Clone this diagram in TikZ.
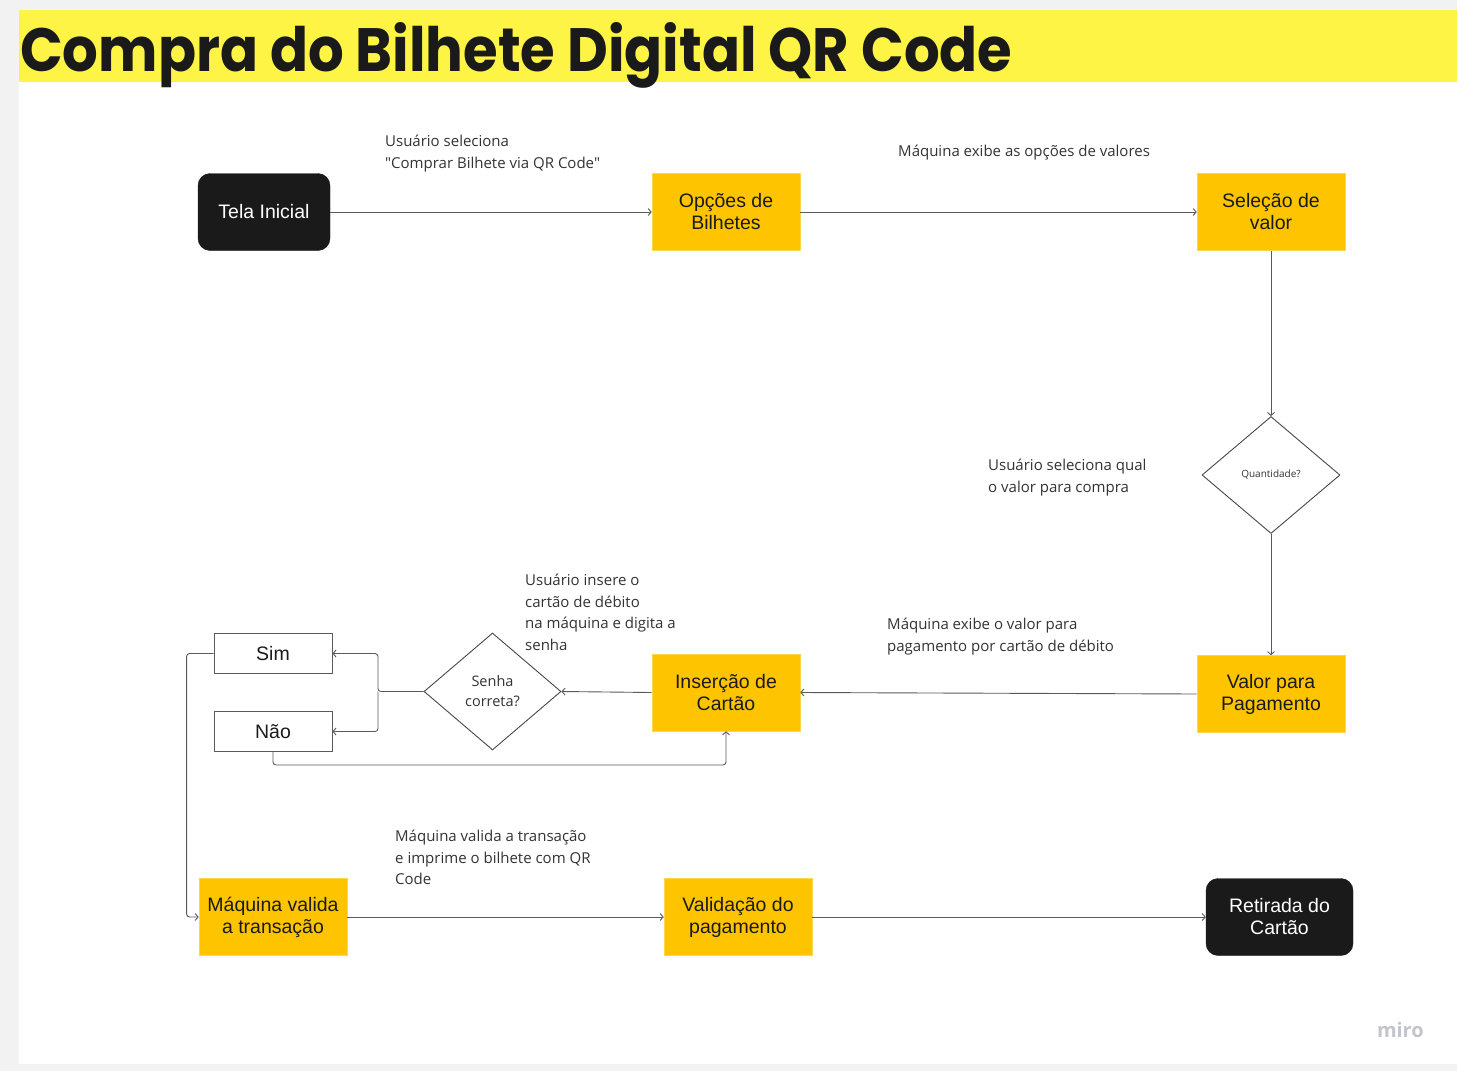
\documentclass[tikz,border=0pt]{standalone}
\usepackage{fontspec}
\usepackage{graphicx}
\setmainfont{Liberation Sans}
\newfontfamily\opensans{Open Sans}
\newfontfamily\titlefont{Poppins}
\usetikzlibrary{arrows.meta,shapes.geometric,calc}
\definecolor{bgray}{HTML}{F2F2F2}
\definecolor{titley}{HTML}{FEF445}
\definecolor{boxy}{HTML}{FFC400}
\definecolor{boxk}{HTML}{1A1A1A}
\definecolor{linec}{HTML}{5A5A5A}
\definecolor{txtc}{HTML}{333333}
\definecolor{miroc}{HTML}{C4C4CC}
\tikzset{
  ybox/.style={fill=boxy, draw=boxy!70!white, line width=0.6pt, minimum width=148pt, minimum height=77pt, inner sep=0pt, align=center, text=boxk, font=\fontsize{19.5}{22}\selectfont},
  kbox/.style={fill=boxk, draw=boxk, rounded corners=12pt, minimum height=77pt, inner sep=0pt, align=center, text=white, font=\fontsize{19.5}{22}\selectfont},
  wbox/.style={fill=white, draw=linec, line width=0.9pt, minimum width=118pt, minimum height=40pt, inner sep=0pt, align=center, text=boxk, font=\fontsize{19.5}{22}\selectfont},
  dia/.style={diamond, draw=boxk!80, line width=0.9pt, fill=white, inner sep=0pt, align=center, text=txtc},
  arr/.style={draw=linec, line width=0.9pt, -{Straight Barb[length=3pt,width=7pt]}},
  lbl/.style={anchor=north west, inner sep=0pt, align=left, text=txtc, font=\opensans\fontsize{15}{21.5}\selectfont}
}
\begin{document}
\begin{tikzpicture}[x=1pt,y=-1pt]
\useasboundingbox (0,0) rectangle (1457,1071);
\fill[bgray] (0,0) rectangle (1457,1071);
\fill[white] (19,10) rectangle (1457,1064);
\fill[titley] (19,10) rectangle (1457,82);
\node[anchor=base west, inner sep=0pt, text=boxk] (title) at (20,71)
  {\resizebox{992pt}{49pt}{\titlefont\bfseries Compra do Bilhete Digital QR Code}};

% nodes
\node[kbox, minimum width=132pt] (tela) at (264,212) {Tela Inicial};
\node[ybox] (opc) at (726,212) {Opções de\\Bilhetes};
\node[ybox] (sel) at (1271,212) {Seleção de\\valor};
\node[dia, minimum width=138pt, minimum height=117pt, font=\opensans\fontsize{10}{12}\selectfont] (qtd) at (1271,475) {Quantidade?};
\node[ybox] (val) at (1271,694) {Valor para\\Pagamento};
\node[ybox] (ins) at (726,692.5) {Inserção de\\Cartão};
\node[dia, minimum width=137pt, minimum height=117pt, font=\opensans\fontsize{14.5}{20}\selectfont] (senha) at (492.5,691.5) {Senha\\correta?};
\node[wbox] (sim) at (273,653.5) {Sim};
\node[wbox] (nao) at (273,731.5) {Não};
\node[ybox] (maq) at (273,917) {Máquina valida\\a transação};
\node[ybox] (vpag) at (738,917) {Validação do\\pagamento};
\node[kbox, minimum width=147pt] (ret) at (1279.5,917) {Retirada do\\Cartão};

% connectors
\draw[arr] (tela) -- (opc);
\draw[arr] (opc) -- (sel);
\draw[arr] (sel) -- (qtd);
\draw[arr] (qtd) -- (val);
\draw[arr] (val.west) -- (ins.east);
\draw[arr] (ins.west) -- (senha.east);
\coordinate (br) at (378,691.5);
\draw[arr, rounded corners=3pt] (senha.west) -- (br) |- (sim.east);
\draw[arr, rounded corners=3pt] (br) |- (nao.east);
\draw[arr, rounded corners=3pt] (nao.south) -- ++(0,13) -| (ins.south);
\draw[arr, rounded corners=3pt] (sim.west) -- ++(-27,0) |- (maq.west);
\draw[arr] (maq) -- (vpag);
\draw[arr] (vpag) -- (ret);

% labels
\node[lbl] (l1) at (385,135) {Usuário seleciona\\"Comprar Bilhete via QR Code"};
\node[lbl] (l2) at (898,145) {Máquina exibe as opções de valores};
\node[lbl] (l3) at (988,459) {Usuário seleciona qual\\o valor para compra};
\node[lbl] (l4) at (525,574) {Usuário insere o\\cartão de débito\\na máquina e digita a\\senha};
\node[lbl] (l5) at (887,618) {Máquina exibe o valor para\\pagamento por cartão de débito};
\node[lbl] (l6) at (395,830) {Máquina valida a transação\\e imprime o bilhete com QR\\Code};
\node[anchor=base east, inner sep=0pt, text=miroc, font=\opensans\bfseries\fontsize{20}{20}\selectfont] (miro) at (1424,1037) {miro};
\end{tikzpicture}
\end{document}
